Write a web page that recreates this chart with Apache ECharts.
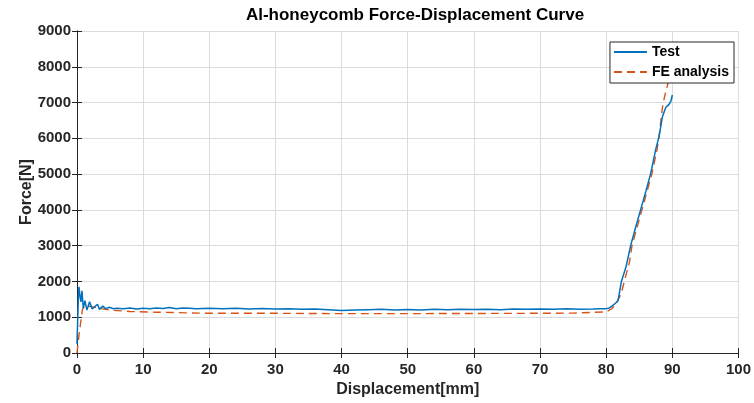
<!DOCTYPE html>
<html>
<head>
<meta charset="utf-8">
<script src="https://cdn.jsdelivr.net/npm/echarts@6/dist/echarts.min.js"></script>
<style>
  html, body { margin: 0; padding: 0; background: #fff; }
  #chart { width: 754px; height: 403px; }
</style>
</head>
<body>
<div id="chart"></div>
<script>
// Measured crushing response of the honeycomb specimen (displacement in mm, force in N)
const testX = [0, 0.1, 0.2, 0.3, 0.45, 0.6, 0.75, 0.95, 1.2, 1.5, 1.9, 2.3, 2.7, 3.1, 3.4, 3.9, 4.3, 4.9, 5.5, 6, 7, 8, 9, 10, 11, 12, 13, 14, 15, 16, 17, 18, 19, 20, 22, 24, 26, 28, 30, 32, 34, 36, 38, 40, 42, 44, 46, 48, 50, 52, 54, 56, 58, 60, 62, 64, 66, 68, 70, 72, 74, 76, 78, 79, 80, 80.5, 81, 81.4, 81.8, 82.3, 83, 83.7, 84.4, 85.2, 86, 86.7, 87.5, 88, 88.5, 88.8, 89, 89.5, 89.8, 90];
const testY = [250, 900, 1500, 1850, 1600, 1430, 1740, 1250, 1460, 1200, 1430, 1230, 1300, 1360, 1220, 1310, 1240, 1280, 1235, 1250, 1240, 1255, 1230, 1250, 1240, 1260, 1245, 1270, 1240, 1255, 1250, 1235, 1245, 1250, 1240, 1250, 1230, 1245, 1230, 1240, 1220, 1230, 1210, 1185, 1200, 1210, 1220, 1205, 1215, 1200, 1225, 1210, 1220, 1215, 1225, 1210, 1230, 1220, 1230, 1220, 1235, 1225, 1230, 1235, 1240, 1260, 1330, 1390, 1470, 2000, 2410, 3000, 3480, 4000, 4520, 5000, 5700, 6060, 6600, 6760, 6860, 6950, 7050, 7210];

// Finite-element prediction
const feX = [0, 0.3, 0.8, 1.1, 1.4, 2.1, 3.3, 5, 8, 12, 20, 30, 40, 50, 60, 70, 75, 80, 80.8, 81.5, 82.3, 82.8, 83.5, 83.9, 85.4, 86.9, 87.7, 88.0, 88.5, 88.9, 89.3, 89.5, 90.2];
const feY = [0, 500, 1200, 1320, 1370, 1300, 1250, 1200, 1160, 1140, 1110, 1110, 1100, 1100, 1105, 1110, 1115, 1150, 1230, 1370, 1680, 2050, 2520, 3000, 4000, 5000, 5700, 6060, 6860, 7230, 7510, 7750, 8700];

const xTicks = { min: 0, max: 100, interval: 10 };
const yTicks = { min: 0, max: 9000, interval: 1000 };

const FONT = '"Liberation Sans", Arial, Helvetica, sans-serif';
const AXIS_COLOR = '#262626';

const toPairs = (xs, ys) => xs.map((x, i) => [x, ys[i]]);

const chart = echarts.init(document.getElementById('chart'), null, { renderer: 'canvas' });

const baseAxis = {
  axisLine: { show: true, lineStyle: { color: AXIS_COLOR, width: 1 } },
  axisTick: { show: true, inside: true, length: 5, lineStyle: { color: AXIS_COLOR } },
  splitLine: { show: false }
};

const tickLabel = { fontFamily: FONT, fontWeight: 'bold', fontSize: 15, color: '#262626' };
const axisName = { fontFamily: FONT, fontWeight: 'bold', fontSize: 16, color: '#262626' };

chart.setOption({
  animation: false,
  backgroundColor: '#ffffff',
  title: {
    text: 'Al-honeycomb Force-Displacement Curve',
    left: 410,
    textAlign: 'center',
    top: 2,
    textStyle: { fontFamily: FONT, fontWeight: 'bold', fontSize: 17, color: '#000' }
  },
  grid: { left: 77, right: 11, top: 31, bottom: 50, containLabel: false },
  legend: {
    right: 20,
    top: 42,
    orient: 'vertical',
    itemWidth: 33,
    itemHeight: 14,
    itemGap: 6,
    padding: [3, 5, 4, 3],
    backgroundColor: '#ffffff',
    borderColor: '#262626',
    borderWidth: 1,
    borderRadius: 0,
    align: 'left',
    itemStyle: { opacity: 0 },
    textStyle: { fontFamily: FONT, fontWeight: 'bold', fontSize: 14, color: '#000' },
    data: ['Test', 'FE analysis']
  },
  xAxis: [
    Object.assign({}, baseAxis, {
      type: 'value', position: 'bottom',
      min: xTicks.min, max: xTicks.max, interval: xTicks.interval,
      name: 'Displacement[mm]', nameLocation: 'middle', nameGap: 29,
      nameMoveOverlap: false,
      nameTextStyle: axisName,
      axisLabel: Object.assign({ margin: 9, formatter: v => String(v) }, tickLabel),
      splitLine: { show: true, lineStyle: { color: '#dcdcdc', width: 1 } }
    }),
    Object.assign({}, baseAxis, {
      type: 'value', position: 'top',
      min: xTicks.min, max: xTicks.max, interval: xTicks.interval,
      axisLabel: { show: false }
    })
  ],
  yAxis: [
    Object.assign({}, baseAxis, {
      type: 'value', position: 'left',
      min: yTicks.min, max: yTicks.max, interval: yTicks.interval,
      name: 'Force[N]', nameLocation: 'middle', nameGap: 42,
      nameMoveOverlap: false,
      nameTextStyle: axisName,
      axisLabel: Object.assign({ margin: 6, formatter: v => String(v) }, tickLabel),
      splitLine: { show: true, lineStyle: { color: '#dcdcdc', width: 1 } }
    }),
    Object.assign({}, baseAxis, {
      type: 'value', position: 'right',
      min: yTicks.min, max: yTicks.max, interval: yTicks.interval,
      axisLabel: { show: false }
    })
  ],
  series: [
    {
      name: 'Test', type: 'line', xAxisIndex: 0, yAxisIndex: 0,
      data: toPairs(testX, testY),
      symbol: 'none', smooth: false, z: 3,
      lineStyle: { color: '#0072BD', width: 1.5 },
      itemStyle: { color: '#0072BD' }
    },
    {
      name: 'FE analysis', type: 'line', xAxisIndex: 0, yAxisIndex: 0,
      data: toPairs(feX, feY),
      symbol: 'none', smooth: false, z: 2,
      lineStyle: { color: '#D95319', width: 1.4, type: [8, 5] },
      itemStyle: { color: '#D95319' }
    }
  ]
});
</script>
</body>
</html>
